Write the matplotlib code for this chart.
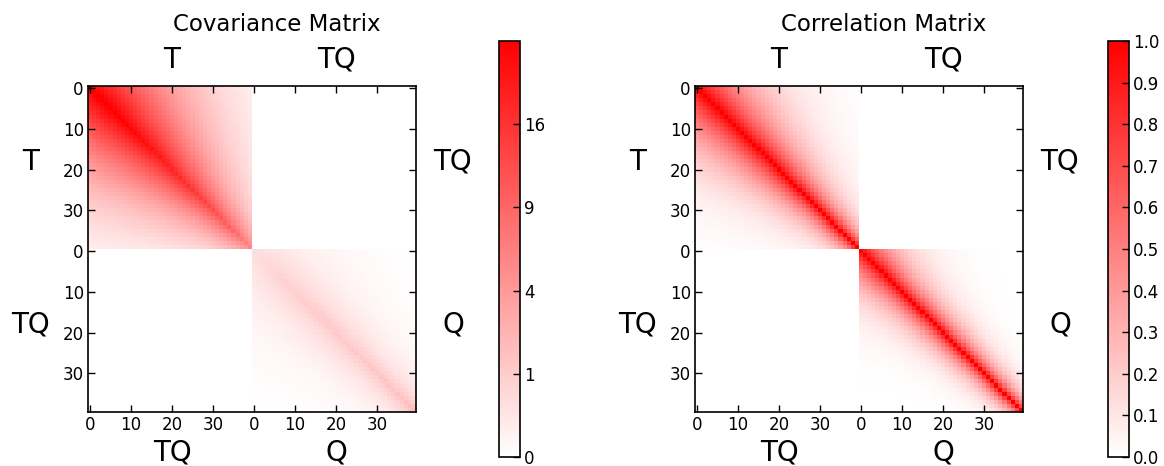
import numpy as np
import matplotlib
matplotlib.use("Agg")
import matplotlib.pyplot as plt
from matplotlib.colors import LinearSegmentedColormap, PowerNorm, Normalize

# per-level variances (T block, Q block)
t_var = [25.0, 25.5, 26.0, 26.0, 25.8, 25.5, 25.2, 25.0, 24.7, 24.4,
         24.0, 23.5, 23.0, 22.5, 22.0, 21.4, 20.8, 20.2, 19.6, 19.0,
         18.4, 17.8, 17.2, 16.6, 16.0, 15.4, 14.8, 14.2, 13.6, 13.0,
         12.3, 11.6, 10.9, 10.2, 9.5, 8.8, 8.0, 7.2, 6.4, 5.6]
q_var = [0.45, 0.5, 0.55, 0.6, 0.65, 0.7, 0.75, 0.8, 0.85, 0.9,
         0.92, 0.95, 0.98, 1.0, 1.02, 1.04, 1.06, 1.08, 1.1, 1.1,
         1.1, 1.12, 1.14, 1.15, 1.16, 1.18, 1.2, 1.22, 1.24, 1.26,
         1.28, 1.3, 1.33, 1.36, 1.4, 1.45, 1.5, 1.6, 1.75, 2.0]

# per-level correlation length (in levels)
t_len = [14.0, 13.8, 13.5, 13.2, 12.9, 12.6, 12.3, 12.0, 11.7, 11.4,
         11.1, 10.8, 10.5, 10.2, 9.9, 9.6, 9.3, 9.0, 8.7, 8.4,
         8.1, 7.8, 7.5, 7.2, 6.9, 6.6, 6.3, 6.0, 5.7, 5.5,
         5.3, 5.1, 4.9, 4.7, 4.5, 4.3, 4.1, 3.9, 3.7, 3.5]
q_len = [8.5, 8.2, 7.9, 7.6, 7.3, 7.0, 6.8, 6.6, 6.4, 6.2,
         6.0, 5.85, 5.7, 5.55, 5.4, 5.3, 5.2, 5.1, 5.0, 4.9,
         4.8, 4.7, 4.6, 4.5, 4.4, 4.3, 4.2, 4.1, 4.0, 3.9,
         3.8, 3.7, 3.6, 3.5, 3.4, 3.3, 3.2, 3.1, 3.0, 2.9]

tick_pos = [0, 10, 20, 30, 40, 50, 60, 70]
tick_labels = ["0", "10", "20", "30", "0", "10", "20", "30"]
cov_ticks = [0, 1, 4, 9, 16]
corr_ticks = [0.0, 0.1, 0.2, 0.3, 0.4, 0.5, 0.6, 0.7, 0.8, 0.9, 1.0]


def block_corr(lengths):
    L = np.array(lengths)
    idx = np.arange(len(L))
    dist = np.abs(idx[:, None] - idx[None, :])
    scale = 0.5 * (L[:, None] + L[None, :])
    return np.exp(-dist / scale)


n = len(t_var)
corr = np.zeros((2 * n, 2 * n))
corr[:n, :n] = block_corr(t_len)
corr[n:, n:] = block_corr(q_len)
std = np.sqrt(np.array(t_var + q_var))
cov = corr * std[:, None] * std[None, :]

cmap = LinearSegmentedColormap.from_list("white_red", ["white", "red"])

W, H = 1164, 466
fig = plt.figure(figsize=(W / 100, H / 100), dpi=100)


def draw_panel(x0, cb_x0, mat, norm, title, cticks, clabels):
    ax = fig.add_axes([x0 / W, 54 / H, 328 / W, 326 / H])
    ax.imshow(mat, cmap=cmap, norm=norm, interpolation="nearest", aspect="auto")
    ax.set_xticks(tick_pos)
    ax.set_xticklabels(tick_labels)
    ax.set_yticks(tick_pos)
    ax.set_yticklabels(tick_labels)
    ax.tick_params(direction="in", top=True, right=True, length=5, width=1,
                   labelsize=12, pad=3)
    for s in ax.spines.values():
        s.set_linewidth(1.2)
    big = dict(fontsize=20, ha="center", va="baseline")
    ax.text(20, -5, "T", **big)
    ax.text(60, -5, "TQ", **big)
    ax.text(-14.5, 20, "T", **big)
    ax.text(-14.5, 60, "TQ", **big)
    ax.text(88.5, 20, "TQ", **big)
    ax.text(88.5, 60, "Q", **big)
    ax.text(20, 91.5, "TQ", **big)
    ax.text(60, 91.5, "Q", **big)
    fig.text((x0 + 189) / W, (H - 31) / H, title, fontsize=16.5,
             ha="center", va="baseline")

    cax = fig.add_axes([cb_x0 / W, 9 / H, 21 / W, 416 / H])
    sm = plt.cm.ScalarMappable(norm=norm, cmap=cmap)
    cb = fig.colorbar(sm, cax=cax)
    cb.set_ticks(cticks)
    cb.set_ticklabels(clabels)
    cb.ax.tick_params(direction="in", length=5, width=1, labelsize=12, pad=3)
    cb.outline.set_linewidth(1.2)
    return ax


draw_panel(88, 499, cov, PowerNorm(gamma=0.5, vmin=0, vmax=25),
           "Covariance Matrix", cov_ticks, [str(t) for t in cov_ticks])
draw_panel(695, 1108, corr, Normalize(vmin=0, vmax=1),
           "Correlation Matrix", corr_ticks, [f"{t:.1f}" for t in corr_ticks])

fig.savefig("out.png", dpi=100)
